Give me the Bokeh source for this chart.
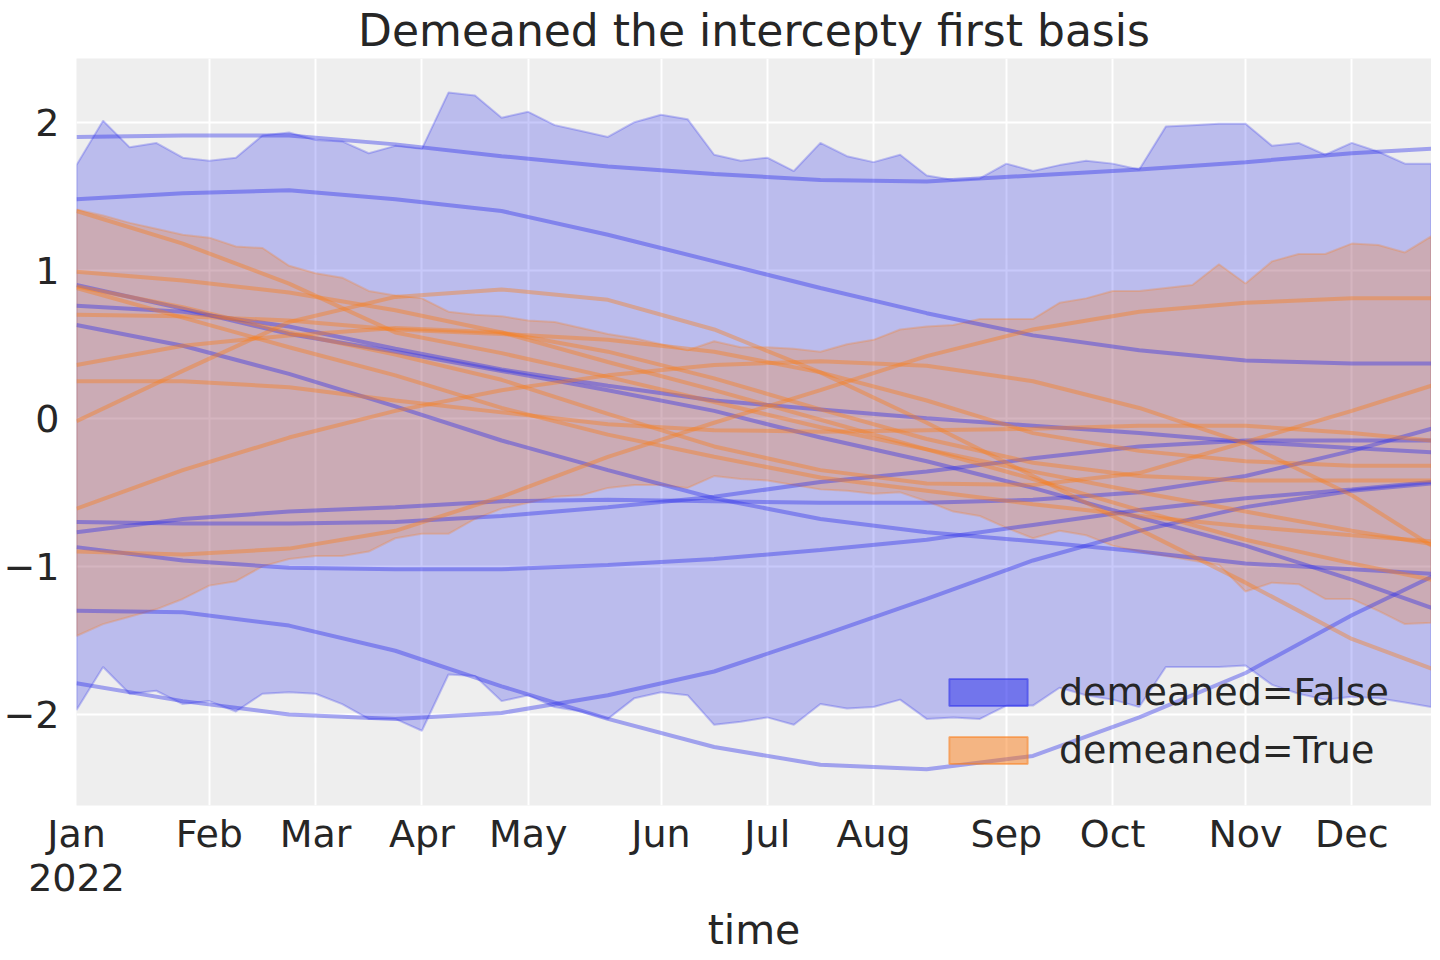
import pandas as pd
from bokeh.plotting import figure
from bokeh.models import (FixedTicker, DatetimeTickFormatter, Range1d,
                          Legend, LegendItem, ColumnDataSource)
from bokeh.embed import file_html
from bokeh.resources import INLINE

# weekly dates (Mondays)
dates = pd.date_range("2022-01-03", periods=52, freq="W-MON")
line_idx = [0, 4, 8, 12, 16, 20, 24, 28, 32, 36, 40, 44, 48, 51]
line_dates = dates[line_idx]
tick_dates = pd.to_datetime(["2022-01-03", "2022-02-07", "2022-03-07", "2022-04-04",
                             "2022-05-02", "2022-06-06", "2022-07-04", "2022-08-01",
                             "2022-09-05", "2022-10-03", "2022-11-07", "2022-12-05"])

# HDI bands
hdi_false_upper = [1.71, 2.01, 1.83, 1.86, 1.76, 1.74, 1.76, 1.91, 1.93, 1.88, 1.87, 1.79, 1.84,
                   1.82, 2.20, 2.18, 2.03, 2.07, 1.98, 1.94, 1.90, 2.00, 2.05, 2.02, 1.78, 1.74,
                   1.76, 1.67, 1.86, 1.77, 1.73, 1.78, 1.64, 1.61, 1.62, 1.72, 1.67, 1.71, 1.74,
                   1.72, 1.68, 1.97, 1.98, 1.99, 1.99, 1.84, 1.86, 1.78, 1.86, 1.80, 1.72, 1.72]
hdi_false_lower = [-1.97, -1.68, -1.86, -1.84, -1.93, -1.91, -1.98, -1.86, -1.85, -1.86, -1.93,
                   -2.03, -2.03, -2.11, -1.73, -1.74, -1.91, -1.87, -1.95, -1.98, -2.03, -1.89,
                   -1.85, -1.87, -2.07, -2.05, -2.02, -2.07, -1.93, -1.96, -1.95, -1.90, -2.03,
                   -2.02, -2.03, -1.94, -1.94, -1.82, -1.87, -1.90, -1.95, -1.68, -1.68, -1.68,
                   -1.67, -1.80, -1.86, -1.90, -1.88, -1.89, -1.92, -1.95]
hdi_true_upper = [1.41, 1.37, 1.32, 1.28, 1.24, 1.22, 1.16, 1.15, 1.03, 0.98, 0.95, 0.86, 0.83,
                  0.81, 0.72, 0.70, 0.69, 0.66, 0.65, 0.61, 0.57, 0.54, 0.50, 0.46, 0.52, 0.48,
                  0.48, 0.47, 0.45, 0.50, 0.53, 0.60, 0.62, 0.63, 0.67, 0.67, 0.67, 0.78, 0.81,
                  0.86, 0.86, 0.88, 0.90, 1.04, 0.91, 1.06, 1.11, 1.11, 1.18, 1.17, 1.12, 1.23]
hdi_true_lower = [-1.47, -1.39, -1.34, -1.29, -1.22, -1.13, -1.10, -1.00, -0.95, -0.93, -0.93,
                  -0.90, -0.81, -0.78, -0.78, -0.68, -0.61, -0.57, -0.53, -0.52, -0.47, -0.45,
                  -0.45, -0.47, -0.39, -0.41, -0.42, -0.45, -0.48, -0.49, -0.51, -0.50, -0.56,
                  -0.63, -0.66, -0.74, -0.81, -0.76, -0.79, -0.86, -0.90, -0.93, -0.96, -0.99,
                  -1.17, -1.11, -1.12, -1.22, -1.22, -1.30, -1.39, -1.38]

# sample curves, demeaned=False
samples_false = [
    [1.90, 1.91, 1.91, 1.85, 1.77, 1.70, 1.65, 1.61, 1.60, 1.64, 1.68, 1.73, 1.79, 1.82],
    [1.48, 1.52, 1.54, 1.48, 1.40, 1.24, 1.06, 0.88, 0.71, 0.56, 0.46, 0.39, 0.37, 0.37],
    [0.90, 0.74, 0.57, 0.45, 0.32, 0.19, 0.05, -0.13, -0.29, -0.47, -0.67, -0.86, -1.09, -1.28],
    [0.76, 0.72, 0.62, 0.47, 0.33, 0.22, 0.12, 0.06, 0.00, -0.05, -0.10, -0.16, -0.20, -0.23],
    [0.63, 0.49, 0.30, 0.08, -0.15, -0.35, -0.54, -0.68, -0.77, -0.83, -0.90, -0.98, -1.02, -1.05],
    [-0.77, -0.68, -0.63, -0.60, -0.56, -0.55, -0.56, -0.57, -0.57, -0.55, -0.50, -0.39, -0.22, -0.07],
    [-0.70, -0.71, -0.71, -0.70, -0.66, -0.60, -0.53, -0.43, -0.36, -0.27, -0.19, -0.15, -0.15, -0.15],
    [-0.87, -0.96, -1.01, -1.02, -1.02, -0.99, -0.95, -0.89, -0.82, -0.72, -0.62, -0.54, -0.48, -0.43],
    [-1.30, -1.31, -1.40, -1.57, -1.81, -2.03, -2.22, -2.34, -2.37, -2.28, -2.02, -1.72, -1.33, -1.07],
    [-1.79, -1.91, -2.00, -2.03, -1.99, -1.87, -1.71, -1.47, -1.22, -0.96, -0.76, -0.60, -0.49, -0.44],
]
# sample curves, demeaned=True
samples_true = [
    [1.40, 1.18, 0.91, 0.58, 0.44, 0.28, 0.11, -0.06, -0.21, -0.36, -0.50, -0.63, -0.76, -0.85],
    [0.99, 0.93, 0.85, 0.73, 0.58, 0.38, 0.19, -0.01, -0.21, -0.41, -0.62, -0.82, -0.98, -1.09],
    [0.89, 0.75, 0.58, 0.43, 0.26, 0.03, -0.19, -0.35, -0.44, -0.45, -0.37, -0.16, 0.05, 0.22],
    [0.88, 0.68, 0.48, 0.29, 0.07, -0.11, -0.26, -0.40, -0.49, -0.58, -0.66, -0.73, -0.79, -0.83],
    [0.70, 0.69, 0.66, 0.60, 0.57, 0.53, 0.45, 0.31, 0.12, -0.10, -0.22, -0.29, -0.32, -0.32],
    [0.36, 0.49, 0.56, 0.61, 0.58, 0.45, 0.27, 0.06, -0.14, -0.30, -0.39, -0.42, -0.42, -0.42],
    [0.25, 0.25, 0.21, 0.12, 0.04, -0.04, -0.08, -0.09, -0.08, -0.07, -0.05, -0.05, -0.10, -0.15],
    [-0.02, 0.32, 0.65, 0.82, 0.87, 0.80, 0.60, 0.31, -0.03, -0.39, -0.75, -1.11, -1.49, -1.69],
    [-0.61, -0.35, -0.13, 0.05, 0.19, 0.29, 0.36, 0.385, 0.355, 0.25, 0.07, -0.17, -0.52, -0.86],
    [-0.90, -0.92, -0.88, -0.76, -0.53, -0.26, -0.03, 0.19, 0.42, 0.60, 0.72, 0.78, 0.81, 0.81],
]

BLUE = "#2a2eec"
ORANGE = "#fa7c17"
TEXT = "#262626"
FONT = "DejaVu Sans"

p = figure(x_axis_type="datetime", output_backend="svg", toolbar_location=None,
           frame_width=1355, frame_height=747,
           min_border_left=69, min_border_right=0, min_border_top=51, min_border_bottom=140,
           x_range=Range1d(dates[0], dates[-1]), y_range=Range1d(-2.615, 2.43),
           title="Demeaned the intercepty first basis")

p.background_fill_color = "#eeeeee"
p.border_fill_color = "white"
p.outline_line_color = None

p.title.align = "center"
p.title.text_font = FONT
p.title.text_font_size = "44px"
p.title.text_font_style = "normal"
p.title.text_color = TEXT
p.title.standoff = 5

p.grid.grid_line_color = "white"
p.grid.grid_line_width = 2

for ax in (p.xaxis[0], p.yaxis[0]):
    ax.axis_line_color = None
    ax.major_tick_line_color = None
    ax.minor_tick_line_color = None
    ax.major_label_text_font = FONT
    ax.major_label_text_font_size = "38px"
    ax.major_label_text_color = TEXT

p.yaxis.ticker = FixedTicker(ticks=[-2, -1, 0, 1, 2])
p.yaxis.major_label_overrides = {-2: "\u22122", -1: "\u22121", 0: "0", 1: "1", 2: "2"}
p.yaxis.major_label_standoff = 11

p.xaxis.ticker = FixedTicker(ticks=list(tick_dates.astype("int64") // 10**6))
yr = dict(milliseconds="%Y", seconds="%Y", minsec="%Y", minutes="%Y", hourmin="%Y",
          hours="%Y", days="%Y", months="%Y", years="%Y")
mo = dict(milliseconds="%b", seconds="%b", minsec="%b", minutes="%b", hourmin="%b",
          hours="%b", days="%b", months="%b", years="%b")
p.xaxis.formatter = DatetimeTickFormatter(**mo, context=DatetimeTickFormatter(**yr),
                                          context_which="start")
p.xaxis.major_label_standoff = 0
p.xaxis.major_label_text_line_height = 1.02
p.xaxis.axis_label = "time"
p.xaxis.axis_label_text_font = FONT
p.xaxis.axis_label_text_font_size = "41px"
p.xaxis.axis_label_text_font_style = "normal"
p.xaxis.axis_label_text_color = TEXT
p.xaxis.axis_label_standoff = 3


def band(upper, lower, color):
    xs = list(dates) + list(dates[::-1])
    ys = list(upper) + list(lower[::-1])
    src = ColumnDataSource(dict(x=xs, y=ys))
    p.patch("x", "y", source=src, fill_color=color, fill_alpha=0.26,
            line_color=color, line_alpha=0.26, line_width=2)


band(hdi_false_upper, hdi_false_lower, BLUE)
band(hdi_true_upper, hdi_true_lower, ORANGE)

for ys in samples_false:
    p.line(line_dates, ys, line_color=BLUE, line_alpha=0.4, line_width=4)
for ys in samples_true:
    p.line(line_dates, ys, line_color=ORANGE, line_alpha=0.4, line_width=4)

# legend swatches (one empty-valued row so only the swatch is drawn)
nan = float("nan")
sw_src = ColumnDataSource(dict(left=[nan], right=[nan], top=[nan], bottom=[nan]))
sw_false = p.quad(left="left", right="right", top="top", bottom="bottom", source=sw_src,
                  fill_color=BLUE, fill_alpha=0.5, line_color=BLUE, line_alpha=0.5, line_width=2)
sw_true = p.quad(left="left", right="right", top="top", bottom="bottom", source=sw_src,
                 fill_color=ORANGE, fill_alpha=0.5, line_color=ORANGE, line_alpha=0.5,
                 line_width=2)
legend = Legend(items=[LegendItem(label="demeaned=False", renderers=[sw_false]),
                       LegendItem(label="demeaned=True", renderers=[sw_true])],
                location=(863, 33), padding=0, margin=0, spacing=14,
                glyph_width=98, glyph_height=34, label_standoff=22,
                label_text_font=FONT, label_text_font_size="38px", label_text_color=TEXT,
                background_fill_alpha=0, border_line_alpha=0)
p.add_layout(legend)

open("out.html", "w").write(file_html(p, INLINE))
